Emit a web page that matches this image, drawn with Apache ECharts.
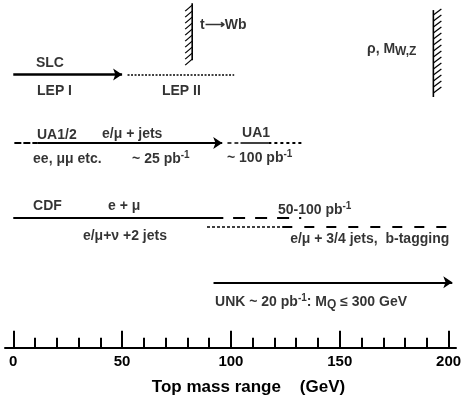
<!DOCTYPE html>
<html><head><meta charset="utf-8">
<script src="https://cdn.jsdelivr.net/npm/echarts@6/dist/echarts.min.js"></script>
<style>html,body{margin:0;padding:0;background:#fff}#c{width:472px;height:405px}</style>
</head><body><div id="c"></div>
<script>
// ---- data (x in GeV, y = lane height in layout units: 0 = axis, 100 = top) ----
const majorTicks = [0, 50, 100, 150, 200];
const minorTicks = [10,20,30,40,60,70,80,90,110,120,130,140,160,170,180,190];
const lanes = { lep: 78.6, ua: 58.9, cdfUp: 37.3, cdfLow: 34.8, unk: 18.8 };

const slcLep1   = [0, 50];        // solid arrow
const lep2      = [52.5, 101.5];  // dotted
const uaLead    = [0.5, 11];      // dashed lead
const uaMain    = [11, 96];       // solid arrow
const ua1Dash   = [98.4, 103.4];
const ua1Solid  = [104.4, 117.2];
const ua1Dots   = [117.2, 133.3];
const cdfMain   = [0, 96.5];
const cdfUpDash = [101, 132.3];
const cdfLoDots = [89, 123.6];
const cdfLoDash = [123.6, 199.5];
const unkRange  = [92, 201.7];    // solid arrow

// walls: [x GeV, top, bottom, hatch side]
const walls = [[82.2, 99.1, 82.7, -1], [193, 97.1, 72.1, 1]];

// labels: [text, x GeV, y]
const labels = [
  ['SLC', 10.4, 81.9],
  ['LEP I', 10.9, 73.8],
  ['LEP II', 68.3, 73.8],
  ['t⟶Wb', 85.8, 92.8],
  ['ρ, M{sub|W,Z}', 162.5, 85.9],
  ['UA1/2', 10.9, 61.2],
  ['e/μ + jets', 40.8, 61.5],
  ['ee, μμ etc.', 9.1, 54.3],
  ['~ 25 pb{sup|-1}', 54.6, 54.3],
  ['UA1', 105.1, 61.7],
  ['~ 100 pb{sup|-1}', 98.2, 54.6],
  ['CDF', 9.1, 40.8],
  ['e + μ', 43.5, 40.8],
  ['e/μ+ν +2 jets', 32.0, 32.1],
  ['50-100 pb{sup|-1}', 121.6, 39.6],
  ['e/μ + 3/4 jets,  b-tagging', 127.2, 31.3],
  ['UNK ~ 20 pb{sup|-1}: M{sub|Q} ≤ 300 GeV', 92.7, 13.2]
];

// ---- build ----
function seg(r, lane, width, type, arrow) {
  const ls = { color: '#000', width: width, type: type };
  return [
    { coord: [r[0], lane], symbol: 'none', lineStyle: ls },
    { coord: [r[1], lane], symbol: arrow ? 'arrow' : 'none', symbolSize: arrow ? 9 : 0, lineStyle: ls }
  ];
}
const segs = [
  seg(slcLep1, lanes.lep, 2.5, 'solid', true),
  seg(lep2, lanes.lep, 1.5, [2, 1.5], false),
  seg(uaLead, lanes.ua, 2, [7, 2], false),
  seg(uaMain, lanes.ua, 2, 'solid', true),
  seg(ua1Dash, lanes.ua, 1.5, [4, 3], false),
  seg(ua1Solid, lanes.ua, 1.5, 'solid', false),
  seg(ua1Dots, lanes.ua, 2, [3, 3], false),
  seg(cdfMain, lanes.cdfUp, 2, 'solid', false),
  seg(cdfUpDash, lanes.cdfUp, 2, [12, 10], false),
  seg(cdfLoDots, lanes.cdfLow, 1.5, [3, 2], false),
  seg(cdfLoDash, lanes.cdfLow, 2, [10, 12], false),
  seg(unkRange, lanes.unk, 2, 'solid', true)
];

const chart = echarts.init(document.getElementById('c'), null, { renderer: 'canvas' });
const F = 'Liberation Sans';
chart.setOption({
  animation: false,
  textStyle: { fontFamily: F },
  grid: { left: 5, right: 16, top: 0, bottom: 57.3, containLabel: false },
  xAxis: [{
    type: 'value', min: -3.8, max: 203.4, position: 'bottom',
    axisLine: { show: true, lineStyle: { color: '#000', width: 2 } },
    axisTick: { show: true, inside: true, length: 17, customValues: majorTicks, lineStyle: { color: '#000', width: 2 } },
    axisLabel: { show: true, customValues: majorTicks, margin: 7, color: '#000', fontSize: 15, fontWeight: 'bold', fontFamily: F },
    splitLine: { show: false },
    name: 'Top mass range    (GeV)', nameLocation: 'middle', nameGap: 31,
    nameTextStyle: { color: '#000', fontSize: 17, fontWeight: 'bold', fontFamily: F, padding: [0, 0, 0, 36] }
  }, {
    type: 'value', min: -3.8, max: 203.4, position: 'bottom',
    axisLine: { show: false },
    axisTick: { show: true, inside: true, length: 10, customValues: minorTicks, lineStyle: { color: '#000', width: 2 } },
    axisLabel: { show: false }, splitLine: { show: false }
  }],
  yAxis: { type: 'value', min: 0, max: 100, show: false },
  series: [{
    type: 'line', data: [], silent: true,
    markLine: { silent: true, animation: false, symbol: 'none', label: { show: false }, data: segs }
  }, {
    type: 'custom', silent: true,
    data: walls,
    encode: { x: 0, y: [1, 2] },
    renderItem: function (params, api) {
      const x = api.value(0), yt = api.value(1), yb = api.value(2), side = api.value(3);
      const p0 = api.coord([x, yt]), p1 = api.coord([x, yb]);
      const ch = [{ type: 'line', shape: { x1: p0[0], y1: p0[1], x2: p1[0], y2: p1[1] }, style: { stroke: '#000', lineWidth: 1.6 } }];
      for (let y = p0[1] + 5; y <= p1[1] + 2; y += 6) {
        if (side < 0) ch.push({ type: 'line', shape: { x1: p0[0] - 7, y1: y + 3, x2: p0[0], y2: y - 3 }, style: { stroke: '#000', lineWidth: 1.3 } });
        else ch.push({ type: 'line', shape: { x1: p0[0], y1: y, x2: p0[0] + 8, y2: y - 6 }, style: { stroke: '#000', lineWidth: 1.3 } });
      }
      return { type: 'group', children: ch };
    }
  }, {
    type: 'scatter', silent: true, symbolSize: 0,
    data: labels.map(l => ({ name: l[0], value: [l[1], l[2]] })),
    label: {
      show: true, position: [0, 0], align: 'left', verticalAlign: 'middle',
      formatter: p => p.name,
      color: '#000', fontSize: 14, fontWeight: 'bold', fontFamily: F, lineHeight: 18,
      rich: {
        sup: { fontSize: 10, fontWeight: 'bold', fontFamily: F, color: '#000', verticalAlign: 'top', lineHeight: 10 },
        sub: { fontSize: 12, fontWeight: 'bold', fontFamily: F, color: '#000', verticalAlign: 'bottom', lineHeight: 10 }
      }
    }
  }]
});
</script></body></html>
